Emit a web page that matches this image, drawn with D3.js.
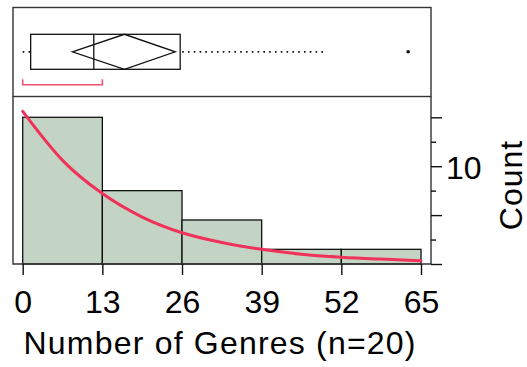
<!DOCTYPE html>
<html><head><meta charset="utf-8">
<script src="https://cdn.jsdelivr.net/npm/d3@7"></script>
<style>body{margin:0;background:#fff}svg{display:block}text{font-family:"Liberation Sans",Arial,sans-serif;fill:#000}</style>
</head><body><svg id="c" width="527" height="367"></svg>
<script>
// ---- data ----
const binEdges = [0, 13, 26, 39, 52, 65];
const binCounts = [15, 7.5, 4.5, 1.5, 1.5];           // heights read on the Count axis
const xTicks = [0, 13, 26, 39, 52, 65];
const countMajorTicks = [0, 5, 10, 15];
const countMinorTicks = [2.5, 7.5, 12.5];
const countLabels = [10];
const fitX = [0, 6.5, 13, 19.5, 26, 32.5, 39, 45.5, 52, 58.5, 65];
const fitY = [15.6, 10.6, 7.2, 4.8, 3.2, 2.2, 1.5, 1.0, 0.7, 0.5, 0.34];
const boxMin = 0, boxQ1 = 1.3, boxMedian = 11.6, boxQ3 = 25.7, boxWhiskerHi = 49.6;
const outliers = [62.9];
const meanVal = 16.6, meanCIlo = 8.1, meanCIhi = 24.9;
const shortestHalf = [0, 13];
const xTitle = "Number of Genres (n=20)";
const yTitle = "Count";

// ---- layout ----
const L = 13, R = 431, T = 7.5, M = 96.5, B = 264;
const FS = 32;
const svg = d3.select("#c");
const x = d3.scaleLinear().domain([0, 65]).range([22.7, 421]);
const y = d3.scaleLinear().domain([0, 15]).range([B, 117.3]);

// bars
const bars = binCounts.map((c, i) => ({x0: binEdges[i], x1: binEdges[i + 1], c}));
svg.append("g").selectAll("rect").data(bars).join("rect")
  .attr("x", d => x(d.x0)).attr("width", d => x(d.x1) - x(d.x0))
  .attr("y", d => y(d.c)).attr("height", d => y(0) - y(d.c))
  .attr("fill", "#c4d4c4").attr("stroke", "#111").attr("stroke-width", 1.3);

// fitted curve
const line = d3.line().x(d => x(d[0])).y(d => y(d[1])).curve(d3.curveMonotoneX);
svg.append("path").datum(fitX.map((v, i) => [v, fitY[i]]))
  .attr("d", line).attr("fill", "none").attr("stroke", "#f0325a").attr("stroke-width", 3).attr("stroke-linecap", "round");

// frames
svg.append("rect").attr("x", L).attr("y", T).attr("width", R - L).attr("height", M - T)
  .attr("fill", "none").attr("stroke", "#333").attr("stroke-width", 1.4);
svg.append("path").attr("d", `M${L},${M}V${B}H${R}V${M}`).attr("fill", "none").attr("stroke", "#333").attr("stroke-width", 1.4);

// x axis
const xAxis = svg.append("g").attr("transform", `translate(0,${B})`)
  .call(d3.axisBottom(x).tickValues(xTicks).tickSize(11).tickPadding(15.5).tickFormat(d3.format("d")));
xAxis.select(".domain").remove();
xAxis.selectAll("line").attr("stroke", "#111").attr("stroke-width", 1.4);
xAxis.selectAll("text").attr("font-size", FS).attr("font-family", "Liberation Sans, Arial, sans-serif").attr("fill", "#000");

// right count axis
const yAxMajor = svg.append("g").attr("transform", `translate(${R},0)`)
  .call(d3.axisRight(y).tickValues(countMajorTicks).tickSize(11).tickPadding(4)
    .tickFormat(d => countLabels.includes(d) ? d : ""));
yAxMajor.select(".domain").remove();
yAxMajor.selectAll("line").attr("stroke", "#111").attr("stroke-width", 1.4);
yAxMajor.selectAll("text").attr("font-size", FS).attr("dy", "0.39em").attr("font-family", "Liberation Sans, Arial, sans-serif").attr("fill", "#000");
const yAxMinor = svg.append("g").attr("transform", `translate(${R},0)`)
  .call(d3.axisRight(y).tickValues(countMinorTicks).tickSize(5).tickFormat(""));
yAxMinor.select(".domain").remove();
yAxMinor.selectAll("line").attr("stroke", "#111").attr("stroke-width", 1.4);

// titles
svg.append("text").attr("x", 23.5).attr("y", 354).attr("text-anchor", "start").attr("font-size", FS)
  .attr("textLength", 392).attr("lengthAdjust", "spacing").text(xTitle);
svg.append("text").attr("transform", `translate(521.5,185) rotate(-90)`).attr("text-anchor", "middle").attr("font-size", FS)
  .attr("letter-spacing", 1).text(yTitle);

// box plot
const bt = 34.3, bb = 69.3, bm = (bt + bb) / 2;
const g = svg.append("g").attr("stroke", "#111").attr("fill", "none").attr("stroke-width", 1.3);
g.append("line").attr("x1", x(boxMin)).attr("x2", x(boxQ1)).attr("y1", bm).attr("y2", bm)
  .attr("stroke-dasharray", "1.6,4.2").attr("stroke-width", 1.8);
g.append("line").attr("x1", x(boxQ3)).attr("x2", x(boxWhiskerHi)).attr("y1", bm).attr("y2", bm)
  .attr("stroke-dasharray", "1.6,4.2").attr("stroke-width", 1.8).attr("stroke-dashoffset", -2);
g.append("rect").attr("x", x(boxQ1)).attr("y", bt).attr("width", x(boxQ3) - x(boxQ1)).attr("height", bb - bt);
g.append("line").attr("x1", x(boxMedian)).attr("x2", x(boxMedian)).attr("y1", bt).attr("y2", bb);
g.append("path").attr("d", `M${x(meanCIlo)},${bm}L${x(meanVal)},${bt}L${x(meanCIhi)},${bm}L${x(meanVal)},${bb}Z`);
svg.selectAll("circle.out").data(outliers).join("circle").attr("class", "out")
  .attr("cx", d => x(d)).attr("cy", bm).attr("r", 1.8).attr("fill", "#111");
svg.append("path").attr("d", `M${x(shortestHalf[0])},79.3V84.7H${x(shortestHalf[1])}V79.3`)
  .attr("fill", "none").attr("stroke", "#f0506e").attr("stroke-width", 1.5);
</script></body></html>
